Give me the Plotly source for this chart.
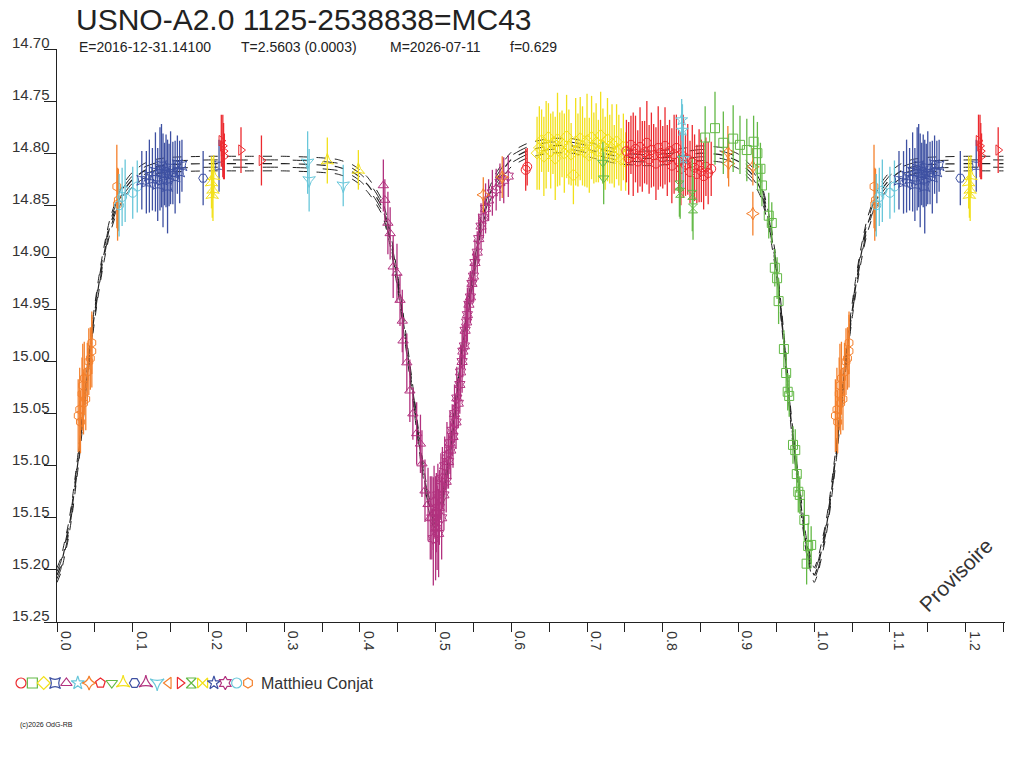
import plotly.graph_objects as go

# colours of the observing runs
RED = "#ec2a2f"
GREEN = "#63b946"
YELLOW = "#f2e01a"
BLUE = "#3d50a2"
PURPLE = "#b2327f"
CYAN = "#69c7da"
ORANGE = "#f4802c"
INK = "#222222"

# model light curve (phase 0..1), a few parallel solutions
model_phase = [0.000, 0.005, 0.010, 0.015, 0.020, 0.025, 0.030, 0.035, 0.040, 0.045,
               0.050, 0.055, 0.060, 0.065, 0.070, 0.080, 0.090, 0.100, 0.115, 0.130,
               0.150, 0.200, 0.250, 0.300, 0.340, 0.370, 0.390, 0.400, 0.410, 0.420,
               0.430, 0.440, 0.450, 0.460, 0.470, 0.480, 0.490, 0.500, 0.510, 0.520,
               0.530, 0.540, 0.550, 0.560, 0.570, 0.580, 0.590, 0.600, 0.620, 0.650,
               0.680, 0.710, 0.740, 0.780, 0.820, 0.850, 0.880, 0.900, 0.920, 0.930,
               0.940, 0.950, 0.960, 0.970, 0.980, 0.990, 1.000]
model_mag = [15.205, 15.196, 15.180, 15.163, 15.140, 15.112, 15.082, 15.047, 15.012, 14.980,
             14.952, 14.927, 14.905, 14.886, 14.870, 14.848, 14.834, 14.825, 14.817, 14.813,
             14.811, 14.810, 14.810, 14.810, 14.811, 14.813, 14.818, 14.823, 14.830, 14.840,
             14.853, 14.882, 14.924, 14.976, 15.031, 15.087, 15.133, 15.157, 15.130, 15.080,
             15.020, 14.962, 14.915, 14.868, 14.842, 14.826, 14.815, 14.806, 14.798, 14.793,
             14.793, 14.798, 14.803, 14.805, 14.803, 14.800, 14.802, 14.808, 14.822, 14.836,
             14.865, 14.910, 14.980, 15.060, 15.122, 15.178, 15.205]
model_offsets = [-0.007, -0.0035, 0.0, 0.0035, 0.007]

# orange hexagons (ingress of primary + 0.08)
orange_hex_phase = [0.028, 0.030, 0.031, 0.033, 0.034, 0.035, 0.036, 0.038, 0.040, 0.042,
                    0.044, 0.046, 0.046, 0.079, 0.080, 0.081]
orange_hex_mag = [15.052, 15.046, 15.058, 15.031, 15.023, 15.040, 15.016, 15.036, 15.010, 15.000,
                  14.997, 14.982, 14.990, 14.832, 14.849, 14.845]
orange_hex_err = [0.035, 0.040, 0.030, 0.035, 0.040, 0.030, 0.035, 0.030, 0.028, 0.032,
                  0.030, 0.030, 0.035, 0.040, 0.035, 0.030]

# cyan circles
cyan_circ_phase = [0.082, 0.086, 0.090, 0.100, 0.106]
cyan_circ_mag = [14.850, 14.842, 14.836, 14.838, 14.832]
cyan_circ_err = [0.030, 0.028, 0.030, 0.025, 0.025]

# blue run around 0.1-0.16
blue_phase = [0.112, 0.118, 0.122, 0.126, 0.130, 0.133, 0.136, 0.138, 0.140, 0.142,
              0.144, 0.146, 0.148, 0.150, 0.153, 0.156, 0.159, 0.162, 0.165, 0.214]
blue_mag = [14.826, 14.828, 14.822, 14.825, 14.818, 14.830, 14.815, 14.812, 14.826, 14.820,
            14.817, 14.832, 14.821, 14.814, 14.819, 14.823, 14.811, 14.818, 14.812, 14.812]
blue_err = [0.028, 0.030, 0.035, 0.030, 0.038, 0.035, 0.040, 0.040, 0.045, 0.030,
            0.035, 0.045, 0.030, 0.035, 0.030, 0.035, 0.028, 0.030, 0.025, 0.025]

blue_hex_phase = [0.193]
blue_hex_mag = [14.824]
blue_hex_err = [0.026]

# yellow stars
yellow_star_phase = [0.204, 0.205, 0.206, 0.207, 0.357, 0.398]
yellow_star_mag = [14.828, 14.840, 14.835, 14.822, 14.807, 14.816]
yellow_star_err = [0.025, 0.022, 0.030, 0.020, 0.022, 0.019]

# red triangles right
red_tri_phase = [0.217, 0.219, 0.220, 0.221, 0.243, 0.270]
red_tri_mag = [14.788, 14.793, 14.798, 14.803, 14.797, 14.807]
red_tri_err = [0.025, 0.030, 0.027, 0.022, 0.022, 0.024]

# cyan triangles
cyan_tri_phase = [0.331, 0.333, 0.378]
cyan_tri_mag = [14.809, 14.826, 14.831]
cyan_tri_err = [0.030, 0.030, 0.020]

# purple, descending branch of secondary
purple_tri_phase = [0.431, 0.433, 0.437, 0.440, 0.444, 0.449, 0.453, 0.456, 0.457, 0.462,
                    0.466, 0.470, 0.475, 0.480, 0.482, 0.486, 0.490, 0.493, 0.497, 0.502]
purple_tri_mag = [14.831, 14.845, 14.867, 14.877, 14.909, 14.915, 14.941, 14.961, 14.980, 15.001,
                  15.028, 15.050, 15.069, 15.079, 15.098, 15.124, 15.137, 15.150, 15.146, 15.160]
purple_tri_err = [0.025, 0.020, 0.030, 0.025, 0.030, 0.028, 0.025, 0.030, 0.022, 0.028,
                  0.030, 0.025, 0.030, 0.028, 0.032, 0.030, 0.035, 0.040, 0.035, 0.040]

# purple, ascending branch of secondary
purple_asc_phase = [0.495, 0.497, 0.498, 0.500, 0.501, 0.503, 0.504, 0.505, 0.507, 0.508,
                    0.509, 0.511, 0.512, 0.514, 0.515, 0.517, 0.519, 0.520, 0.522, 0.523,
                    0.525, 0.527, 0.528, 0.530, 0.532, 0.533, 0.535, 0.536, 0.538, 0.539,
                    0.541, 0.542, 0.544, 0.546, 0.548, 0.550, 0.552, 0.555, 0.557, 0.560,
                    0.563, 0.566, 0.570, 0.575, 0.580, 0.585, 0.590, 0.596]
purple_asc_mag = [15.150, 15.170, 15.135, 15.160, 15.145, 15.128, 15.165, 15.140, 15.120, 15.150,
                  15.112, 15.128, 15.100, 15.115, 15.090, 15.096, 15.078, 15.085, 15.066, 15.072,
                  15.050, 15.058, 15.035, 15.040, 15.022, 15.010, 15.000, 14.990, 14.985, 14.970,
                  14.962, 14.955, 14.945, 14.938, 14.925, 14.918, 14.905, 14.895, 14.882, 14.870,
                  14.862, 14.853, 14.845, 14.838, 14.835, 14.828, 14.826, 14.822]
purple_asc_err = [0.040, 0.045, 0.035, 0.050, 0.038, 0.030, 0.042, 0.036, 0.032, 0.040,
                  0.030, 0.034, 0.028, 0.030, 0.032, 0.026, 0.030, 0.028, 0.025, 0.030,
                  0.028, 0.026, 0.030, 0.024, 0.028, 0.026, 0.030, 0.025, 0.022, 0.028,
                  0.024, 0.026, 0.022, 0.025, 0.020, 0.024, 0.022, 0.020, 0.024, 0.022,
                  0.020, 0.024, 0.020, 0.022, 0.020, 0.018, 0.022, 0.020]

# orange 4-point stars
orange_star_phase = [0.563, 0.588, 0.886, 0.887, 0.919, 0.919]
orange_star_mag = [14.840, 14.823, 14.799, 14.810, 14.813, 14.858]
orange_star_err = [0.017, 0.020, 0.025, 0.022, 0.018, 0.021]

# red circle at 0.62
red_single_phase = [0.619, 0.621]
red_single_mag = [14.816, 14.813]
red_single_err = [0.020, 0.018]

# yellow diamonds, maximum after secondary
yellow_phase = [0.634, 0.637, 0.640, 0.643, 0.646, 0.649, 0.652, 0.655, 0.658, 0.661,
                0.664, 0.667, 0.670, 0.673, 0.676, 0.679, 0.682, 0.685, 0.688, 0.691,
                0.694, 0.697, 0.700, 0.703, 0.706, 0.709, 0.712, 0.715, 0.718, 0.721,
                0.724, 0.727, 0.730, 0.733, 0.736, 0.739, 0.742, 0.745, 0.748, 0.751]
yellow_mag = [14.800, 14.795, 14.788, 14.803, 14.792, 14.785, 14.798, 14.790, 14.805, 14.787,
              14.796, 14.791, 14.800, 14.784, 14.794, 14.801, 14.821, 14.789, 14.797, 14.786,
              14.793, 14.799, 14.788, 14.802, 14.785, 14.795, 14.790, 14.798, 14.783, 14.793,
              14.800, 14.787, 14.796, 14.791, 14.803, 14.789, 14.797, 14.806, 14.794, 14.808]
yellow_err = [0.035, 0.040, 0.030, 0.038, 0.042, 0.033, 0.036, 0.030, 0.040, 0.045,
              0.035, 0.032, 0.038, 0.040, 0.036, 0.030, 0.028, 0.042, 0.035, 0.040,
              0.038, 0.033, 0.045, 0.036, 0.040, 0.034, 0.038, 0.030, 0.042, 0.036,
              0.035, 0.040, 0.033, 0.038, 0.030, 0.036, 0.034, 0.030, 0.032, 0.028]

# green triangles down
green_tri_phase = [0.721, 0.722]
green_tri_mag = [14.809, 14.824]
green_tri_err = [0.020, 0.025]

# red circles, 0.75-0.87
red_phase = [0.752, 0.755, 0.758, 0.761, 0.764, 0.767, 0.770, 0.773, 0.776, 0.779,
             0.782, 0.785, 0.788, 0.791, 0.794, 0.797, 0.800, 0.803, 0.806, 0.809,
             0.812, 0.815, 0.818, 0.821, 0.824, 0.827, 0.830, 0.833, 0.836, 0.839,
             0.842, 0.845, 0.848, 0.851, 0.854, 0.857, 0.860, 0.864]
red_mag = [14.798, 14.805, 14.792, 14.801, 14.796, 14.808, 14.794, 14.803, 14.799, 14.790,
           14.806, 14.797, 14.802, 14.810, 14.795, 14.800, 14.804, 14.793, 14.807, 14.798,
           14.812, 14.801, 14.795, 14.808, 14.815, 14.803, 14.811, 14.806, 14.818, 14.809,
           14.814, 14.820, 14.812, 14.817, 14.822, 14.813, 14.819, 14.815]
red_err = [0.030, 0.035, 0.028, 0.040, 0.032, 0.030, 0.038, 0.034, 0.030, 0.040,
           0.033, 0.036, 0.030, 0.035, 0.040, 0.032, 0.030, 0.037, 0.034, 0.030,
           0.036, 0.038, 0.032, 0.030, 0.035, 0.040, 0.030, 0.034, 0.030, 0.036,
           0.032, 0.028, 0.035, 0.030, 0.032, 0.028, 0.030, 0.026]

# cyan stars
cyan_star_phase = [0.825, 0.826, 0.827]
cyan_star_mag = [14.768, 14.778, 14.805]
cyan_star_err = [0.020, 0.025, 0.030]

# green hourglasses
green_hg_phase = [0.822, 0.823, 0.839, 0.840]
green_hg_mag = [14.831, 14.838, 14.840, 14.853]
green_hg_err = [0.030, 0.025, 0.035, 0.030]

# green squares, descending branch of primary
green_phase = [0.856, 0.869, 0.880, 0.893, 0.902, 0.911, 0.920, 0.925, 0.929, 0.931,
               0.940, 0.944, 0.948, 0.951, 0.953, 0.960, 0.963, 0.965, 0.967, 0.972,
               0.975, 0.977, 0.979, 0.981, 0.987, 0.990, 0.992, 0.996]
green_mag = [14.785, 14.776, 14.790, 14.786, 14.792, 14.797, 14.789, 14.800, 14.815, 14.831,
             14.860, 14.867, 14.910, 14.920, 14.942, 14.988, 15.011, 15.029, 15.033, 15.080,
             15.085, 15.108, 15.125, 15.128, 15.152, 15.194, 15.177, 15.176]
green_err = [0.030, 0.035, 0.030, 0.032, 0.028, 0.030, 0.025, 0.030, 0.025, 0.020,
             0.022, 0.020, 0.018, 0.020, 0.022, 0.018, 0.020, 0.018, 0.020, 0.018,
             0.020, 0.018, 0.020, 0.018, 0.020, 0.020, 0.022, 0.018]

# symbol row under the plot
legend_symbols = ["circle-open", "square-open", "diamond-open", "star-square-open", "triangle-up-open",
                  "star-open", "star-diamond-open", "pentagon-open", "triangle-down-open",
                  "star-triangle-up-open", "hexagon2-open", "star-triangle-up-open",
                  "star-triangle-down-open", "triangle-left-open", "triangle-right-open",
                  "hourglass-open", "bowtie-open", "star-open", "hexagram-open", "circle-open",
                  "hexagon-open"]
legend_colors = [RED, GREEN, YELLOW, BLUE, PURPLE, CYAN, ORANGE, RED, GREEN, YELLOW, BLUE,
                 PURPLE, CYAN, ORANGE, RED, GREEN, YELLOW, BLUE, PURPLE, CYAN, ORANGE]
observer = "Matthieu Conjat"

xtick_vals = [0.0, 0.1, 0.2, 0.3, 0.4, 0.5, 0.6, 0.7, 0.8, 0.9, 1.0, 1.1, 1.2]
xtick_text = ["0.0", "0.1", "0.2", "0.3", "0.4", "0.5", "0.6", "0.7", "0.8", "0.9", "1.0", "1.1", "1.2"]
ytick_vals = [14.70, 14.75, 14.80, 14.85, 14.90, 14.95, 15.00, 15.05, 15.10, 15.15, 15.20, 15.25]
ytick_text = ["14.70", "14.75", "14.80", "14.85", "14.90", "14.95", "15.00", "15.05",
              "15.10", "15.15", "15.20", "15.25"]

title = "USNO-A2.0 1125-2538838=MC43"
subtitle = ["E=2016-12-31.14100", "T=2.5603 (0.0003)", "M=2026-07-11", "f=0.629"]
subtitle_left = [77, 239, 388, 508]  # left edge of each group, px

PHASE_MAX = 1.252


def wrap(phase, *cols):
    # repeat the start of the cycle after phase 1
    ph = list(phase)
    out = [list(c) for c in cols]
    for i, p in enumerate(phase):
        if p > 0 and p + 1 <= PHASE_MAX:
            ph.append(p + 1)
            for o, c in zip(out, cols):
                o.append(c[i])
    return ph, out


fig = go.Figure()

# model curves
dashes = ["dash", "longdash", "dash", "longdash", "dash"]
for off, dash in zip(model_offsets, dashes):
    mx, (my,) = wrap(model_phase, [m + off for m in model_mag])
    order = sorted(range(len(mx)), key=lambda k: mx[k])
    fig.add_trace(go.Scatter(
        x=[mx[k] for k in order], y=[my[k] for k in order], mode="lines",
        line=dict(color=INK, width=1.2 if off == 0 else 1, dash=dash, shape="spline", smoothing=0.6),
        hoverinfo="skip"))

groups = [
    (orange_hex_phase, orange_hex_mag, orange_hex_err, ORANGE, "hexagon-open"),
    (cyan_circ_phase, cyan_circ_mag, cyan_circ_err, CYAN, "circle-open"),
    (blue_phase, blue_mag, blue_err, BLUE, "star-square-open"),
    (blue_hex_phase, blue_hex_mag, blue_hex_err, BLUE, "hexagon2-open"),
    (yellow_star_phase, yellow_star_mag, yellow_star_err, YELLOW, "star-triangle-up-open"),
    (red_tri_phase, red_tri_mag, red_tri_err, RED, "triangle-right-open"),
    (cyan_tri_phase, cyan_tri_mag, cyan_tri_err, CYAN, "star-triangle-down-open"),
    (purple_tri_phase, purple_tri_mag, purple_tri_err, PURPLE, "triangle-up-open"),
    (purple_asc_phase, purple_asc_mag, purple_asc_err, PURPLE, "hexagram-open"),
    (orange_star_phase, orange_star_mag, orange_star_err, ORANGE, "star-diamond-open"),
    (red_single_phase, red_single_mag, red_single_err, RED, "circle-open"),
    (yellow_phase, yellow_mag, yellow_err, YELLOW, "diamond-open"),
    (green_tri_phase, green_tri_mag, green_tri_err, GREEN, "triangle-down-open"),
    (red_phase, red_mag, red_err, RED, "circle-open"),
    (cyan_star_phase, cyan_star_mag, cyan_star_err, CYAN, "star-open"),
    (green_hg_phase, green_hg_mag, green_hg_err, GREEN, "hourglass-open"),
    (green_phase, green_mag, green_err, GREEN, "square-open"),
]

for ph, mg, er, col, sym in groups:
    x, (y, e) = wrap(ph, mg, er)
    fig.add_trace(go.Scatter(
        x=x, y=y, mode="markers",
        marker=dict(symbol=sym, size=9, color=col, line=dict(color=col, width=1)),
        error_y=dict(type="data", array=e, visible=True, color=col, thickness=1.3, width=0),
        hoverinfo="x+y"))

# symbol row
fig.add_trace(go.Scatter(
    x=list(range(len(legend_symbols))), y=[0] * len(legend_symbols), mode="markers",
    xaxis="x2", yaxis="y2",
    marker=dict(symbol=legend_symbols, size=10, color=legend_colors,
                line=dict(color=legend_colors, width=1.2)),
    hoverinfo="skip"))

W, H = 1024, 768


def px(x):
    return x / W


def py(y):
    return 1 - y / H


x0, x1, y0, y1 = 57, 1005, 49, 622  # plot box on the page, px
legend_x0, legend_step = 21, 11.35

fig.update_layout(
    width=W, height=H,
    margin=dict(l=0, r=0, t=0, b=0),
    paper_bgcolor="white", plot_bgcolor="white",
    showlegend=False,
    font=dict(family="Liberation Sans, Arial, sans-serif", color=INK),
    xaxis=dict(domain=[px(x0), px(x1)], range=[0, PHASE_MAX], showline=True, linecolor=INK,
               linewidth=1, ticks="outside", ticklen=9, tickcolor=INK, tick0=0, dtick=0.05,
               showticklabels=False, showgrid=False, zeroline=False, anchor="y"),
    yaxis=dict(domain=[py(y1), py(y0)], range=[15.25, 14.70], showline=True,
               linecolor=INK, linewidth=1, ticks="outside", ticklen=12, tickcolor=INK,
               tick0=14.70, dtick=0.05, showticklabels=False, showgrid=False, zeroline=False,
               anchor="x"),
    xaxis2=dict(domain=[0, 0.3],
                range=[-legend_x0 / legend_step, (0.3 * W - legend_x0) / legend_step],
                visible=False, anchor="y2"),
    yaxis2=dict(domain=[py(700), py(666)], range=[-1, 1], visible=False, anchor="x2"),
)

ann = []
for v, t in zip(ytick_vals, ytick_text):
    ann.append(dict(x=px(x0), xref="paper", y=v, yref="y", text=t, showarrow=False,
                    xanchor="right", yanchor="bottom", xshift=-5, yshift=-4,
                    font=dict(size=15, color="#333")))
for v, t in zip(xtick_vals, xtick_text):
    ann.append(dict(x=v, xref="x", y=py(y1), yref="paper", text=t, showarrow=False,
                    textangle=90, xanchor="left", yanchor="top", xshift=-1, yshift=-7,
                    font=dict(size=14, color="#333")))
ann.append(dict(x=px(75), y=py(20), xref="paper", yref="paper", text=title,
                showarrow=False, xanchor="left", yanchor="middle", borderpad=0,
                font=dict(size=30, color=INK)))
for t, left in zip(subtitle, subtitle_left):
    ann.append(dict(x=px(left), y=py(47), xref="paper", yref="paper", text=t, showarrow=False,
                    xanchor="left", yanchor="middle", font=dict(size=14, color=INK)))
ann.append(dict(x=px(955), y=py(575), xref="paper", yref="paper", text="Provisoire",
                showarrow=False, textangle=-45, xanchor="center", yanchor="middle",
                font=dict(size=21, color="#333")))
ann.append(dict(x=px(259), y=py(683), xref="paper", yref="paper", text=observer,
                showarrow=False, xanchor="left", yanchor="middle",
                font=dict(size=16, color="#333")))
ann.append(dict(x=px(18), y=py(725), xref="paper", yref="paper", text="(c)2026 OdG-RB",
                showarrow=False, xanchor="left", yanchor="middle",
                font=dict(size=7, color=INK)))
fig.update_layout(annotations=ann)

# drop the default page margin so the figure sits at the window corner
fig.write_html("out.html", config={"displayModeBar": False},
               post_script="document.body.style.margin = '0';")
